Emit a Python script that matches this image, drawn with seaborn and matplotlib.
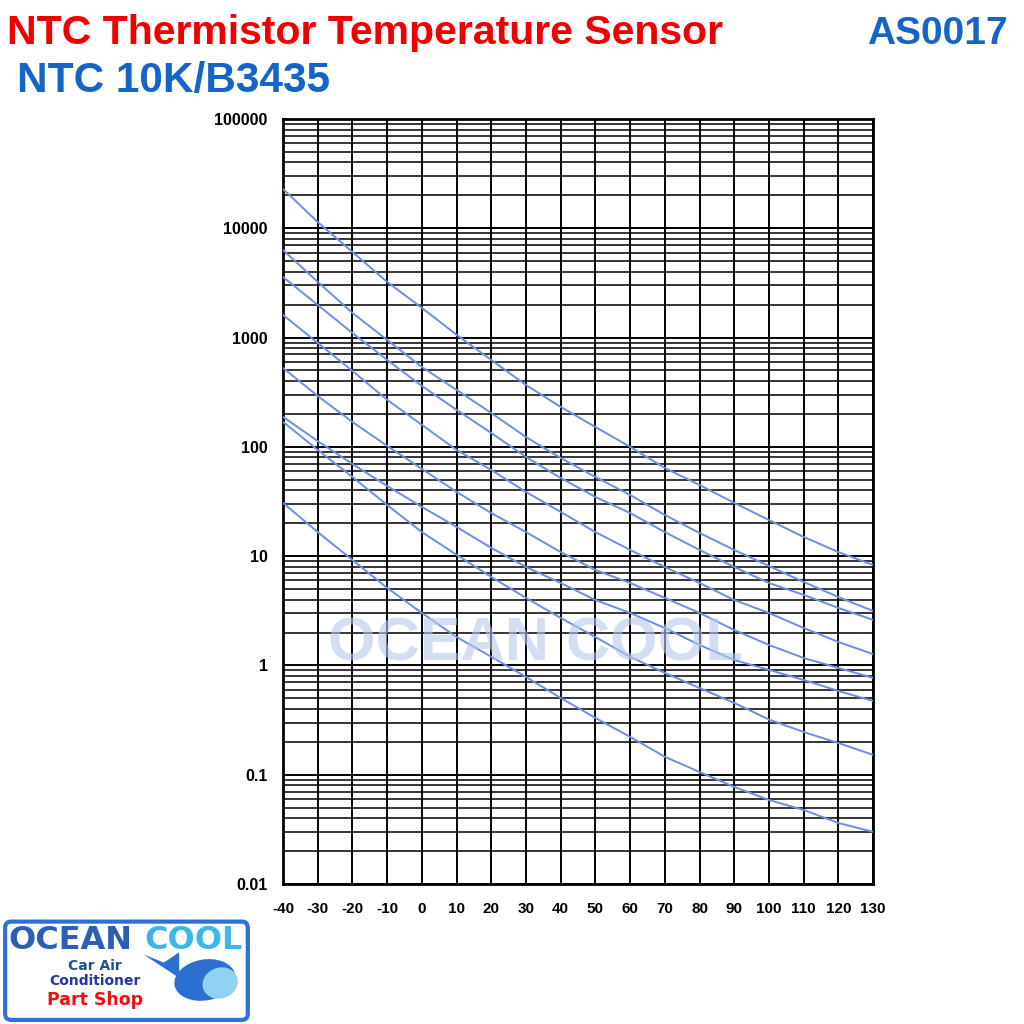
import matplotlib
matplotlib.use("Agg")
import matplotlib.pyplot as plt
import seaborn as sns
import pandas as pd
from matplotlib.ticker import LogLocator, NullFormatter
from matplotlib.patches import FancyBboxPatch, Ellipse, Polygon

# temperature (deg C) and resistance readings (kOhm) for the 8 curves
temps = [-40, -30, -20, -10, 0, 10, 20, 30, 40, 50, 60, 70, 80, 90, 100, 110, 120, 130]
curve_1 = [22900, 11400, 6070, 3230, 1870, 1060, 624, 368, 232, 152, 100, 64.1, 44.8, 30.7, 21.4, 15.0, 10.9, 8.31]
curve_2 = [6330, 3230, 1680, 951, 538, 332, 204, 123, 79.1, 53.0, 36.3, 23.8, 16.3, 11.4, 8.13, 5.81, 4.23, 3.15]
curve_3 = [3580, 1990, 1100, 624, 361, 218, 134, 80.8, 51.9, 34.8, 24.8, 16.6, 11.4, 7.96, 5.68, 4.42, 3.36, 2.61]
curve_4 = [1610, 893, 495, 269, 159, 93.7, 61.5, 38.7, 25.4, 16.6, 11.4, 7.96, 5.68, 3.97, 3.02, 2.20, 1.64, 1.27]
curve_5 = [527, 292, 169, 102, 62.8, 38.7, 24.8, 16.6, 10.9, 7.47, 5.68, 4.15, 3.02, 2.11, 1.54, 1.17, 0.949, 0.769]
curve_6 = [188, 113, 69.7, 43.9, 28.2, 18.5, 11.9, 7.96, 5.68, 3.97, 3.02, 2.20, 1.54, 1.12, 0.910, 0.737, 0.584, 0.473]
curve_7 = [169, 93.7, 53.0, 29.4, 16.6, 10.3, 6.45, 4.15, 2.72, 1.82, 1.20, 0.854, 0.622, 0.454, 0.32, 0.246, 0.195, 0.152]
curve_8 = [30.7, 16.6, 9.23, 5.12, 3.02, 1.82, 1.20, 0.785, 0.504, 0.331, 0.222, 0.146, 0.106, 0.0773, 0.0588, 0.0476, 0.0362, 0.0300]

y_ticks = [0.01, 0.1, 1, 10, 100, 1000, 10000, 100000]
y_labels = ["0.01", "0.1", "1", "10", "100", "1000", "10000", "100000"]
x_ticks = list(range(-40, 131, 10))

curves = [curve_1, curve_2, curve_3, curve_4, curve_5, curve_6, curve_7, curve_8]
rows = []
for i, c in enumerate(curves):
    for t, r in zip(temps, c):
        rows.append({"temp": t, "R": r, "curve": f"c{i + 1}"})
df = pd.DataFrame(rows)

sns.set_style("white")
plt.rcParams["font.family"] = ["Liberation Sans", "DejaVu Sans"]

line_color = "#6b8fe6"

fig = plt.figure(figsize=(10.24, 10.24), dpi=100)
ax = fig.add_axes([0.2764, 0.1367, 0.5762, 0.7471])

sns.lineplot(data=df, x="temp", y="R", hue="curve", palette=[line_color] * 8,
             legend=False, ax=ax, linewidth=1.4, zorder=3)

ax.set_yscale("log")
ax.set_xlim(-40, 130)
ax.set_ylim(0.01, 100000)
ax.set_xticks(x_ticks)
ax.set_xticklabels([str(x) for x in x_ticks], fontweight="bold", fontsize=11, color="black")
ax.set_yticks(y_ticks)
ax.set_yticklabels(y_labels, fontweight="bold", fontsize=11.5, color="black")
ax.yaxis.set_minor_locator(LogLocator(base=10, subs=range(2, 10)))
ax.yaxis.set_minor_formatter(NullFormatter())
ax.tick_params(axis="both", which="both", length=0)
ax.tick_params(axis="y", pad=11)
ax.tick_params(axis="x", pad=13)
ax.set_xlabel("")
ax.set_ylabel("")

ax.set_axisbelow(True)
ax.grid(True, which="major", color="black", linewidth=1.4)
ax.grid(True, which="minor", axis="y", color="black", linewidth=1.1)
for s in ax.spines.values():
    s.set_color("black")
    s.set_linewidth(2)

# headings
fig.text(0.007, 0.968, "NTC Thermistor Temperature Sensor", color="#f00000",
         fontsize=29.5, fontweight="bold", ha="left", va="center")
fig.text(0.984, 0.967, "AS0017", color="#1565c8", fontsize=28,
         fontweight="bold", ha="right", va="center")
fig.text(0.017, 0.921, "NTC 10K/B3435", color="#1565c8", fontsize=30.5,
         fontweight="bold", ha="left", va="center")

# watermark
fig.text(0.523, 0.37, "OCEAN COOL", color="#b7c9ec", alpha=0.6, fontsize=44,
         fontweight="bold", ha="center", va="center", zorder=5)

# shop logo
box = FancyBboxPatch((0.005, 0.004), 0.237, 0.096, boxstyle="round,pad=0,rounding_size=0.006",
                     transform=fig.transFigure, facecolor="white", edgecolor="#2f6fd6",
                     linewidth=3, zorder=1)
fig.patches.append(box)
fig.text(0.008, 0.082, "OCEAN", color="#2d5fb8", fontsize=23, fontweight="heavy",
         ha="left", va="center", family=["DejaVu Sans"])
fig.text(0.141, 0.082, "COOL", color="#3bb6ea", fontsize=23, fontweight="heavy",
         ha="left", va="center", family=["DejaVu Sans"])
fig.text(0.093, 0.057, "Car Air", color="#1f4f8a", fontsize=10, fontweight="bold",
         ha="center", va="center", family=["DejaVu Sans"])
fig.text(0.093, 0.042, "Conditioner", color="#2236a8", fontsize=10, fontweight="bold",
         ha="center", va="center", family=["DejaVu Sans"])
fig.text(0.093, 0.023, "Part Shop", color="#ee1111", fontsize=12.5, fontweight="bold",
         ha="center", va="center", family=["DejaVu Sans"])
whale = Ellipse((0.2, 0.043), 0.06, 0.04, angle=10, transform=fig.transFigure,
                facecolor="#2d6fd0", edgecolor="none", zorder=2)
fig.patches.append(whale)
belly = Ellipse((0.215, 0.04), 0.035, 0.03, angle=20, transform=fig.transFigure,
                facecolor="#8fd2f2", edgecolor="none", zorder=3)
fig.patches.append(belly)
tail = Polygon([(0.175, 0.045), (0.14, 0.068), (0.16, 0.06), (0.175, 0.07)],
               closed=True, transform=fig.transFigure, facecolor="#2d6fd0",
               edgecolor="none", zorder=2)
fig.patches.append(tail)

fig.savefig("out.png", dpi=100, facecolor="white")
